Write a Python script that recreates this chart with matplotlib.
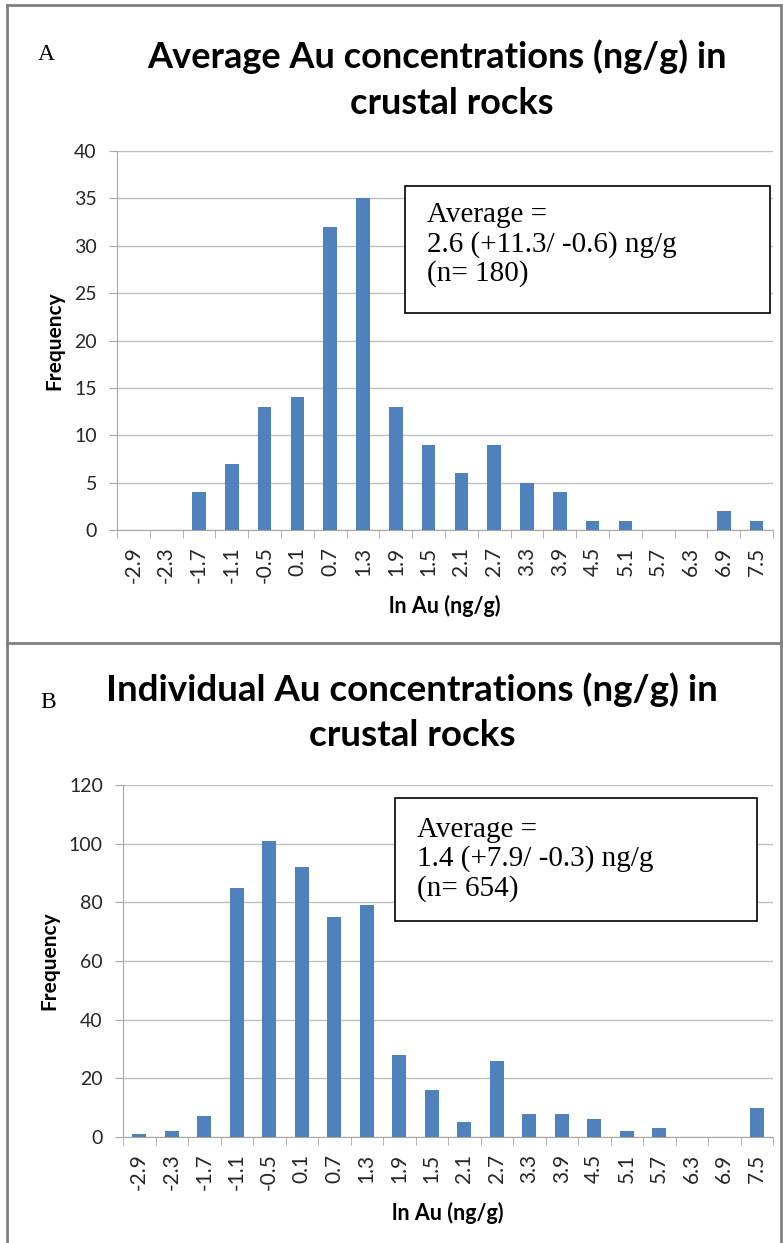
import matplotlib
matplotlib.use("Agg")
import matplotlib.pyplot as plt
from matplotlib.lines import Line2D

# bin labels (ln Au, ng/g) shared by both histograms
bins = ["-2.9", "-2.3", "-1.7", "-1.1", "-0.5", "0.1", "0.7", "1.3", "1.9", "1.5",
        "2.1", "2.7", "3.3", "3.9", "4.5", "5.1", "5.7", "6.3", "6.9", "7.5"]

avg_counts = [0, 0, 4, 7, 13, 14, 32, 35, 13, 9, 6, 9, 5, 4, 1, 1, 0, 0, 2, 1]
ind_counts = [1, 2, 7, 85, 101, 92, 75, 79, 28, 16, 5, 26, 8, 8, 6, 2, 3, 0, 0, 10]

avg_title = ["Average Au concentrations (ng/g) in", "crustal rocks"]
ind_title = ["Individual Au concentrations (ng/g) in", "crustal rocks"]
avg_note = "Average =\n2.6 (+11.3/ -0.6) ng/g\n(n= 180)"
ind_note = "Average =\n1.4 (+7.9/ -0.3) ng/g\n(n= 654)"

BAR = "#4F81BD"
GRID = "#BFBFBF"
AXIS = "#A6A6A6"
SANS = ["Lato", "DejaVu Sans"]
SERIF = ["Liberation Serif", "DejaVu Serif"]

W, H = 783, 1243
fig = plt.figure(figsize=(W / 100, H / 100), dpi=100)


def px(x0, y0, x1, y1):
    """Pixel box (top-left origin) -> figure fraction rect."""
    return [x0 / W, 1 - y1 / H, (x1 - x0) / W, (y1 - y0) / H]


def draw_hist(rect, counts, ymax, ystep):
    ax = fig.add_axes(rect)
    x = list(range(len(bins)))
    ax.bar(x, counts, width=0.42, color=BAR, zorder=3)
    ax.set_xlim(-0.5, len(bins) - 0.5)
    ax.set_ylim(0, ymax)
    ax.set_yticks(range(0, ymax + 1, ystep))
    ax.set_xticks(x)
    ax.set_xticklabels(bins, rotation=90, fontsize=15, color="#262626", family=SANS)
    ax.set_xticks([i - 0.5 for i in range(len(bins) + 1)], minor=True)
    ax.tick_params(axis="x", which="major", length=0, pad=12)
    ax.tick_params(axis="x", which="minor", length=6, color=AXIS)
    ax.tick_params(axis="y", length=6, color=AXIS, pad=8.5, labelsize=14,
                   labelcolor="#262626")
    for lab in ax.get_yticklabels():
        lab.set_family(SANS)
    ax.grid(axis="y", color=GRID, lw=1, zorder=0)
    for s in ("top", "right"):
        ax.spines[s].set_visible(False)
    for s in ("left", "bottom"):
        ax.spines[s].set_color(AXIS)
    ax.set_ylabel("Frequency", fontsize=15, fontweight="bold", family=SANS, labelpad=7)
    ax.set_xlabel("ln Au (ng/g)", fontsize=15.5, fontweight="bold", family=SANS, labelpad=8)
    return ax


draw_hist(px(117, 151, 773, 530), avg_counts, 40, 5)
draw_hist(px(123, 785, 773, 1137), ind_counts, 120, 20)

# panel titles and letters
for (cx, cy), line in zip([(437, 57), (452, 103)], avg_title):
    fig.text(cx / W, 1 - cy / H, line, ha="center", va="center", fontsize=26,
             fontweight="bold", family=SANS)
for (cx, cy), line in zip([(412, 690), (412, 735)], ind_title):
    fig.text(cx / W, 1 - cy / H, line, ha="center", va="center", fontsize=26.5,
             fontweight="bold", family=SANS)
fig.text(38 / W, 1 - 55 / H, "A", fontsize=17, family=SERIF, va="center")
fig.text(40 / W, 1 - 702 / H, "B", fontsize=17, family=SERIF, va="center")

# summary boxes
for (x0, y0, x1, y1), shift, note in [((405, 186, 770, 313), 5, avg_note),
                                      ((395, 798, 757, 921), 0, ind_note)]:
    fig.patches.append(plt.Rectangle((x0 / W, 1 - y1 / H), (x1 - x0) / W, (y1 - y0) / H,
                                     transform=fig.transFigure, fc="white", ec="black",
                                     lw=1.2, zorder=5))
    fig.text((x0 + 22) / W, 1 - ((y0 + y1) / 2 - shift) / H, note, fontsize=21,
             family=SERIF, va="center", ha="left", linespacing=1.12, zorder=6)

# panel frames
frame = dict(color="#808080", lw=2, transform=fig.transFigure)
fig.add_artist(Line2D([7 / W, 7 / W], [0, 1 - 5 / H], **frame))
fig.add_artist(Line2D([781 / W, 781 / W], [0, 1 - 5 / H], **frame))
fig.add_artist(Line2D([7 / W, 781 / W], [1 - 5 / H, 1 - 5 / H], **frame))
fig.add_artist(Line2D([7 / W, 781 / W], [1 - 643 / H, 1 - 643 / H], **frame))

fig.savefig("out.png", dpi=100)
